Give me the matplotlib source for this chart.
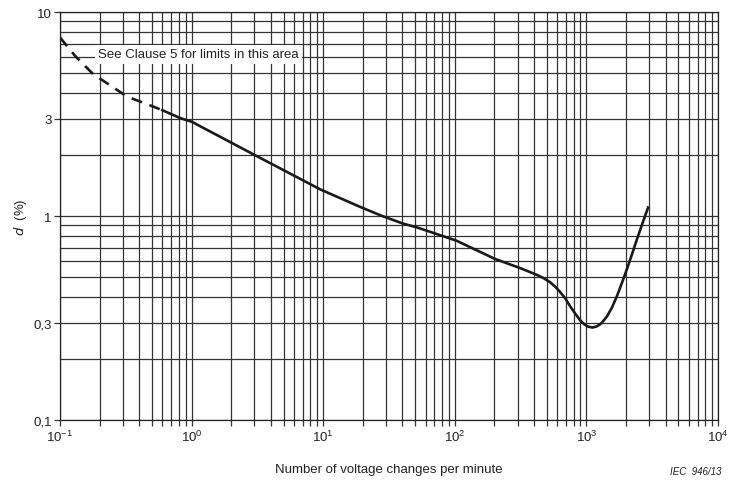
import numpy as np
import matplotlib.pyplot as plt
from matplotlib.ticker import FixedLocator, FixedFormatter, LogLocator, NullFormatter

plt.rcParams['font.family'] = ['Liberation Sans', 'DejaVu Sans']
plt.rcParams['mathtext.default'] = 'regular'

# curve (changes per minute, d in %)
dashed_x = [0.1, 0.13, 0.178, 0.25, 0.323, 0.45, 0.6]
dashed_y = [7.5, 6.1, 4.97, 4.3, 3.85, 3.55, 3.3]
solid_x = [0.6, 0.82, 1.0, 2.93, 6.7, 9.5, 19, 27, 40, 51.4, 103, 202, 313,
           419, 470, 529, 580, 631, 690, 750, 820, 894, 960, 1028, 1110, 1203,
           1300, 1432, 1560, 1706, 1860, 2033, 2220, 2421, 2680, 2940]
solid_y = [3.3, 3.02, 2.9, 2.01, 1.52, 1.35, 1.11, 1.01, 0.92, 0.88, 0.757, 0.616, 0.556,
           0.515, 0.497, 0.474, 0.45, 0.424, 0.395, 0.362, 0.333, 0.309, 0.295, 0.287, 0.284, 0.288,
           0.298, 0.322, 0.355, 0.405, 0.47, 0.55, 0.65, 0.77, 0.93, 1.1]

y_ticks = [0.1, 0.3, 1, 3, 10]
y_labels = ['0,1', '0,3', '1', '3', '10']
y_minor = [0.2, 0.4, 0.5, 0.6, 0.7, 0.8, 0.9, 2, 4, 5, 6, 7, 8, 9]

fig = plt.figure(figsize=(7.42, 4.81), dpi=100)
ax = fig.add_axes([0.0809, 0.1247, 0.8868, 0.8482])
ax.set_xscale('log')
ax.set_yscale('log')
ax.set_xlim(0.1, 1e4)
ax.set_ylim(0.1, 10)

ax.plot(dashed_x, dashed_y, color='#1a1a1a', lw=1.9, dashes=(4.2, 3.0), zorder=3)
ax.plot(solid_x, solid_y, color='#1a1a1a', lw=1.9, zorder=3, solid_joinstyle='round')

ax.xaxis.set_major_locator(LogLocator(base=10))
ax.xaxis.set_minor_locator(LogLocator(base=10, subs=np.arange(2, 10)))
ax.xaxis.set_minor_formatter(NullFormatter())
ax.yaxis.set_major_locator(FixedLocator(y_ticks))
ax.yaxis.set_major_formatter(FixedFormatter(y_labels))
ax.yaxis.set_minor_locator(FixedLocator(y_minor))
ax.yaxis.set_minor_formatter(NullFormatter())

ax.grid(True, which='both', color='#333333', lw=0.9)
ax.tick_params(axis='both', which='both', direction='out', length=4, width=0.9,
               color='#333333', labelsize=9.5, labelcolor='#222222', pad=2)
ax.tick_params(axis='y', which='minor', length=0)
for s in ax.spines.values():
    s.set_color('#222222')
    s.set_linewidth(0.9)

ax.set_xlabel('Number of voltage changes per minute', fontsize=9.5, color='#222222', labelpad=14)
ax.set_ylabel('$\\it{d}$  (%)', fontsize=9.5, color='#222222', labelpad=3)

ax.text(0.058, 0.896, 'See Clause 5 for limits in this area', transform=ax.transAxes,
        fontsize=9.5, color='#222222', va='center', ha='left', zorder=4,
        bbox=dict(facecolor='white', edgecolor='none', pad=2.5))

fig.text(0.972, 0.008, 'IEC  946/13', fontsize=7, style='italic', ha='right', va='bottom',
         color='#222222')

fig.savefig('out.png', dpi=100)
